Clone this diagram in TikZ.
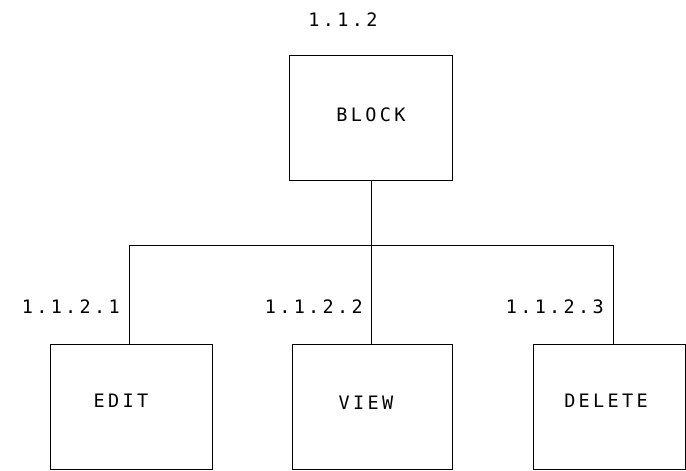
\documentclass[tikz,border=0pt]{standalone}
\usepackage{fontspec}
\newfontfamily\plotfont[LetterSpace=18]{DejaVu Sans Mono}
\begin{document}
\begin{tikzpicture}[x=1pt,y=-1pt,
  box/.style={draw,line width=0.8pt,inner sep=0pt},
  lbl/.style={inner sep=0pt,font=\plotfont\fontsize{18.5}{22}\selectfont},
  wire/.style={line width=0.8pt}]
\useasboundingbox (0,0) rectangle (686,471);
\node[lbl] (lblock) at (343,20) {1.1.2};
\node[box,minimum width=163pt,minimum height=125pt] (block) at (370.5,117.5) {};
\node[lbl] (tblock) at (371,115) {BLOCK};
\coordinate (j) at (371,245);
\node[box,minimum width=162pt,minimum height=125pt] (edit) at (131,406.5) {};
\node[lbl] (tedit) at (121,401) {EDIT};
\node[box,minimum width=160pt,minimum height=125pt] (view) at (372,406.5) {};
\node[lbl] (tview) at (366,403) {VIEW};
\node[box,minimum width=152pt,minimum height=125pt] (delete) at (609,406.5) {};
\node[lbl] (tdelete) at (606,401) {DELETE};
\node[lbl,anchor=east] (l1) at (120,307) {1.1.2.1};
\node[lbl,anchor=east] (l2) at (363,307) {1.1.2.2};
\node[lbl,anchor=east] (l3) at (604,307) {1.1.2.3};
\draw[wire] (block.south -| j) -- (j);
\draw[wire] (j) -| ([xshift=-2pt]edit.north);
\draw[wire] (j) -| ([xshift=4pt]delete.north);
\draw[wire] (j) -- (view.north -| j);
\end{tikzpicture}
\end{document}
